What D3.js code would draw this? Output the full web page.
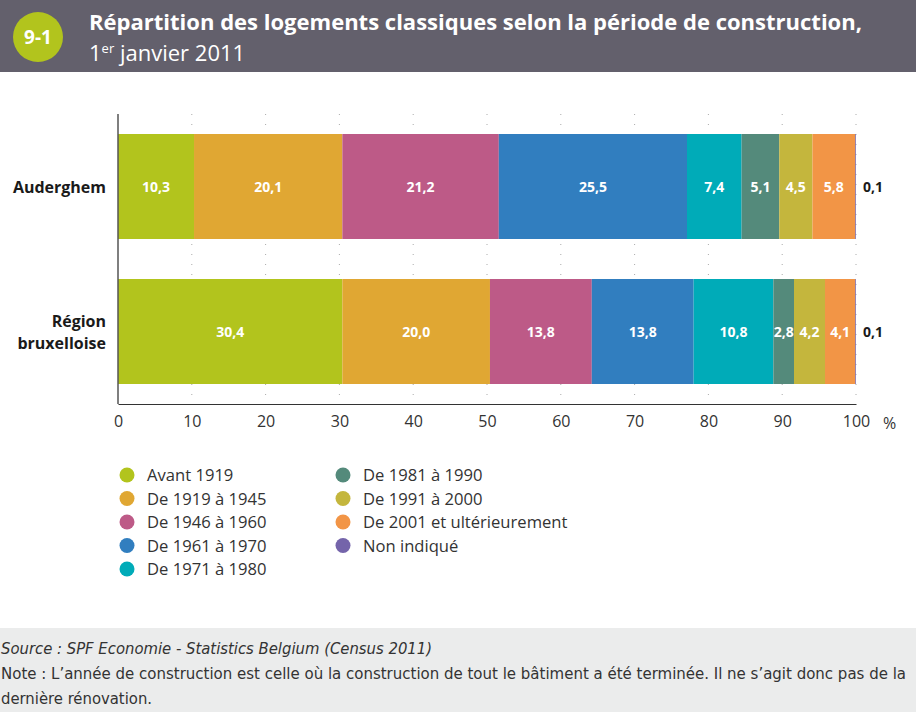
<!DOCTYPE html>
<html><head><meta charset="utf-8">
<script src="https://cdn.jsdelivr.net/npm/d3@7"></script>
<style>body{margin:0;background:#fff}svg{display:block}</style>
</head><body>
<svg id="c" width="916" height="712"></svg>
<script>
const categories = ["Auderghem", "Région bruxelloise"];
const periods = ["Avant 1919","De 1919 à 1945","De 1946 à 1960","De 1961 à 1970","De 1971 à 1980","De 1981 à 1990","De 1991 à 2000","De 2001 et ultérieurement","Non indiqué"];
const auderghem = [10.3, 20.1, 21.2, 25.5, 7.4, 5.1, 4.5, 5.8, 0.1];
const region = [30.4, 20.0, 13.8, 13.8, 10.8, 2.8, 4.2, 4.1, 0.1];
const colors = ["#b2c41d","#e0a733","#bd5a87","#317ebf","#00abb8","#548a7b","#c4b63d","#f29546","#7464aa"];
const xTicks = [0,10,20,30,40,50,60,70,80,90,100];

const svg = d3.select("#c");
const fmt = v => d3.format(".1f")(v).replace(".", ",");

// header
svg.append("rect").attr("x",0).attr("y",0).attr("width",916).attr("height",72).attr("fill","#63606c");
svg.append("circle").attr("cx",38).attr("cy",37).attr("r",25).attr("fill","#b2c41d");
svg.append("text").attr("x",38).attr("y",44).attr("text-anchor","middle").attr("fill","#fff")
  .attr("font-family","Open Sans").attr("font-weight","bold").attr("font-size",19).text("9-1");
svg.append("text").attr("x",89).attr("y",30).attr("fill","#fff").attr("font-family","Open Sans")
  .attr("font-weight","bold").attr("font-size",22).attr("textLength",773).attr("lengthAdjust","spacingAndGlyphs")
  .text("Répartition des logements classiques selon la période de construction,");
const sub = svg.append("text").attr("x",89).attr("y",61).attr("fill","#fff").attr("font-family","Open Sans").attr("font-size",22);
sub.append("tspan").text("1");
sub.append("tspan").attr("dy",-8).attr("font-size",13).text("er");
sub.append("tspan").attr("dy",8).text(" janvier 2011");

// chart
const x = d3.scaleLinear().domain([0,100]).range([118,856]);
const y = d3.scaleBand().domain(categories).range([114,404]).paddingInner(40/145).paddingOuter(20/145);
const g = svg.append("g");

// dotted grid
g.selectAll("line.grid").data(xTicks.slice(1)).join("line")
  .attr("x1",d=>x(d)).attr("x2",d=>x(d)).attr("y1",114).attr("y2",404)
  .attr("stroke","#aaa").attr("stroke-width",1).attr("stroke-dasharray","1,9");

const rows = [auderghem, region];
rows.forEach((vals, i) => {
  const cat = categories[i];
  let cum = 0;
  const segs = vals.map((v, j) => { const s = {v, j, x0: cum, x1: cum + v}; cum += v; return s; });
  const row = g.append("g");
  row.selectAll("rect").data(segs).join("rect")
    .attr("x", d => x(d.x0)).attr("width", d => x(d.x1) - x(d.x0))
    .attr("y", y(cat)).attr("height", y.bandwidth()).attr("fill", d => colors[d.j]);
  row.selectAll("text.in").data(segs.filter(d => d.v >= 1)).join("text")
    .attr("x", d => (x(d.x0) + x(d.x1)) / 2).attr("y", y(cat) + y.bandwidth()/2 + 5)
    .attr("text-anchor","middle").attr("fill","#fff").attr("font-family","Open Sans")
    .attr("font-weight","bold").attr("font-size",14).text(d => fmt(d.v));
  const last = segs[segs.length-1];
  row.append("text").attr("x", 863).attr("y", y(cat) + y.bandwidth()/2 + 5)
    .attr("fill","#1a1a1a").attr("font-family","Open Sans").attr("font-weight","bold").attr("font-size",14).text(fmt(last.v));
});

// category labels
const catLines = [["Auderghem"],["Région","bruxelloise"]];
categories.forEach((c,i) => {
  const lines = catLines[i];
  const cy = y(c) + y.bandwidth()/2;
  const t = svg.append("text").attr("text-anchor","end").attr("fill","#1a1a1a")
    .attr("font-family","Open Sans").attr("font-weight","bold").attr("font-size",16);
  lines.forEach((l,k) => t.append("tspan").attr("x",106).attr("y", cy + 6 + (k - (lines.length-1)/2)*22).text(l));
});

// axes
const xAxis = d3.axisBottom(x).tickValues(xTicks).tickSize(0).tickPadding(12);
const ax = svg.append("g").attr("transform","translate(0,404)").call(xAxis);
ax.select(".domain").attr("stroke","#333").attr("stroke-width",1.2);
ax.selectAll("text").attr("font-family","Open Sans").attr("font-size",16).attr("fill","#333");
svg.append("line").attr("x1",118).attr("x2",118).attr("y1",114).attr("y2",404).attr("stroke","#555").attr("stroke-width",1.5);
svg.append("text").attr("x",883).attr("y",429).attr("font-family","Open Sans").attr("font-size",16).attr("fill","#333").text("%");

// legend
const legend = svg.append("g");
periods.forEach((p,i) => {
  const col = i < 5 ? 0 : 1;
  const r = i < 5 ? i : i - 5;
  const lx = col === 0 ? 127 : 343;
  const ly = 475 + r * 23.5;
  legend.append("circle").attr("cx",lx).attr("cy",ly).attr("r",7.5).attr("fill",colors[i]);
  legend.append("text").attr("x",lx+20).attr("y",ly+6).attr("font-family","Open Sans")
    .attr("font-size",16.6).attr("fill","#333").text(p);
});

// footer
svg.append("rect").attr("x",0).attr("y",628).attr("width",916).attr("height",84).attr("fill","#ebecec");
const ff = "'Liberation Sans Narrow','DejaVu Sans Condensed',sans-serif";
svg.append("text").attr("x",1).attr("y",654).attr("font-family",ff).attr("font-style","italic")
  .attr("font-size",16.5).attr("fill","#333").text("Source : SPF Economie - Statistics Belgium (Census 2011)");
svg.append("text").attr("x",1).attr("y",679).attr("font-family",ff)
  .attr("font-size",16.5).attr("fill","#333").attr("textLength",905).attr("lengthAdjust","spacingAndGlyphs")
  .text("Note : L’année de construction est celle où la construction de tout le bâtiment a été terminée. Il ne s’agit donc pas de la");
svg.append("text").attr("x",1).attr("y",704).attr("font-family",ff)
  .attr("font-size",16.5).attr("fill","#333").text("dernière rénovation.");
</script>
</body></html>
